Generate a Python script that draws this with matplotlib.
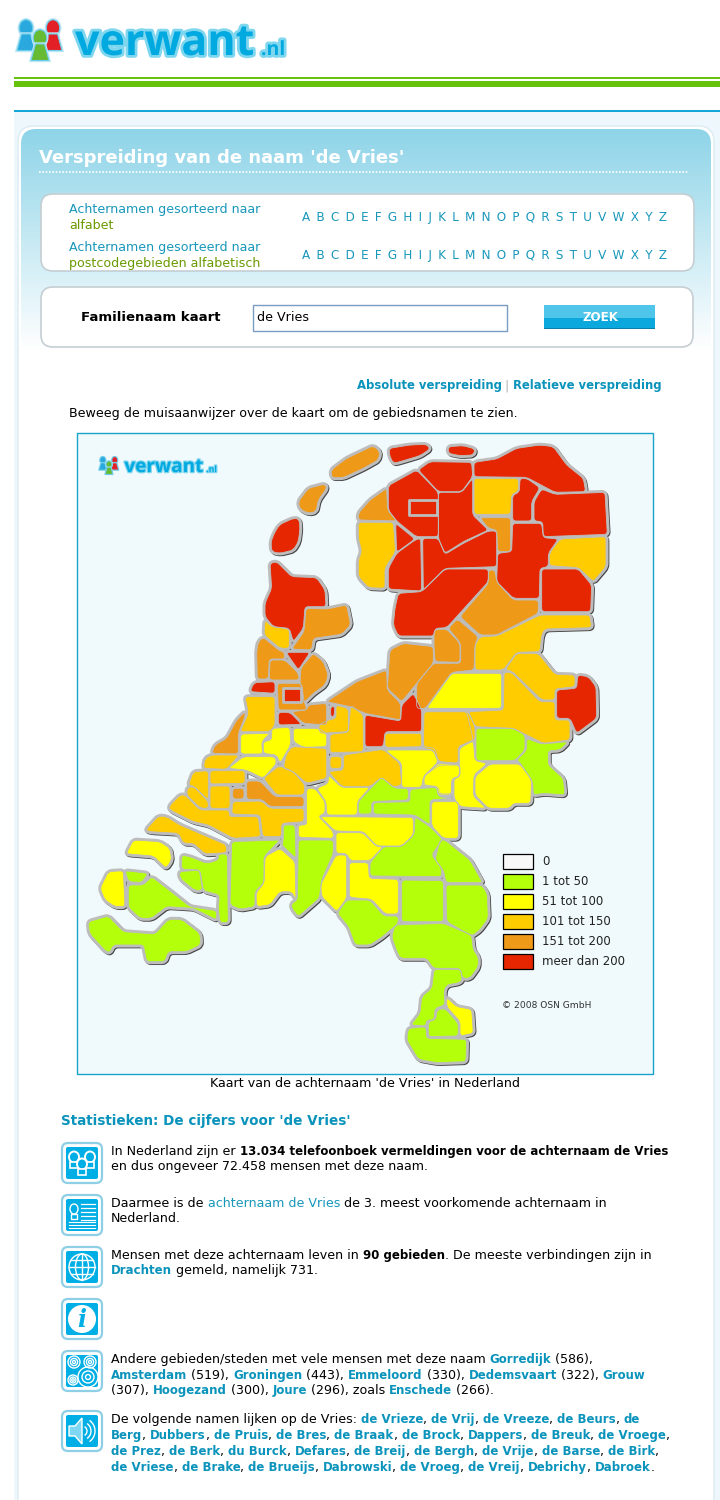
import re

import matplotlib
matplotlib.use("Agg")
import matplotlib.pyplot as plt
import matplotlib.patheffects as pe
import numpy as np
from matplotlib.patches import Circle, Ellipse, FancyBboxPatch, PathPatch, Polygon, Rectangle
from matplotlib.path import Path

plt.rcParams["font.family"] = ["DejaVu Sans"]

TEAL = "#0a93bb"
LINK = "#1897ba"
OLIVE = "#6a9a00"
BORDER = "#bdbdbd"
MAP_BG = "#f0f9fc"

LEGEND_LABELS = ["0", "1 tot 50", "51 tot 100", "101 tot 150", "151 tot 200", "meer dan 200"]
LEGEND_COLORS = ["#f8f8f8", "#b4ff0a", "#ffff00", "#ffcc00", "#ee9918", "#e62600"]
LETTERS = " \u2009".join("ABCDEFGHIJKLMNOPQRSTUVWXYZ")

ORIGIN_NORTH = (230, 435)
ORIGIN_SOUTH = (80, 700)
ORIGIN_EAST = (400, 670)
ORIGIN_LIMBURG = (400, 860)

north_red = [
    [(123, 320), (135, 290), (150, 268), (190, 250), (207, 252), (210, 280), (205, 320), (190, 345), (150, 355), (125, 350)],
    [(478, 40), (540, 30), (590, 28), (600, 42), (570, 62), (510, 80), (490, 85), (478, 60)],
    [(655, 35), (700, 32), (735, 42), (730, 60), (690, 62), (655, 55)],
    [(565, 105), (600, 80), (725, 82), (728, 125), (695, 170), (625, 170)],
    [(475, 152), (560, 105), (625, 172), (625, 305), (558, 305), (500, 258), (475, 225)],
    [(497, 265), (555, 312), (500, 352)],
    [(500, 355), (555, 315), (572, 310), (575, 468), (475, 462), (475, 400)],
    [(625, 172), (695, 172), (728, 130), (728, 240), (775, 285), (700, 320), (645, 355), (625, 310)],
    [(578, 310), (625, 310), (645, 358), (700, 325), (775, 288), (800, 288), (800, 395), (645, 400), (580, 465)],
    [(505, 475), (575, 470), (645, 402), (775, 402), (775, 440), (650, 578), (615, 580), (612, 603), (505, 603), (490, 570), (495, 520)],
    [(732, 82), (800, 72), (860, 40), (930, 30), (970, 35), (1010, 90), (1060, 130), (1067, 170), (975, 172), (890, 127), (732, 125)],
    [(870, 130), (890, 130), (930, 158), (905, 200), (905, 258), (848, 258), (848, 180), (868, 172)],
    [(935, 162), (975, 178), (1125, 172), (1132, 298), (940, 305), (938, 260), (912, 258), (912, 200)],
    [(848, 265), (935, 265), (940, 308), (985, 312), (955, 355), (955, 395), (930, 400), (928, 490), (850, 490), (800, 440), (803, 355), (845, 350)],
    [(935, 402), (1045, 402), (1085, 450), (1082, 530), (935, 530)],
    [(120, 385), (140, 380), (185, 425), (260, 428), (285, 465), (288, 515), (225, 515), (220, 580), (190, 620), (178, 580), (130, 575), (105, 545), (105, 505), (125, 460)],
    [(168, 652), (240, 652), (205, 705)],
    [(145, 832), (180, 832), (215, 868), (145, 870)],
    [(302, 815), (315, 815), (312, 845), (302, 845)],
    [(515, 810), (550, 775), (575, 825), (575, 890), (465, 890), (460, 935), (405, 935), (405, 840), (512, 858)],
    [(60, 770), (72, 743), (135, 740), (135, 775)],
    [(1043, 720), (1075, 725), (1098, 755), (1100, 850), (1040, 895), (1020, 850), (980, 850), (980, 765), (1040, 760)],
]
north_red_boxes = [
    [(538, 195), (622, 195), (622, 240), (538, 240)],
    [(158, 760), (212, 760), (212, 800), (158, 800)],
]
north_orange = [
    [(205, 200), (235, 160), (285, 147), (290, 160), (265, 195), (258, 230), (235, 235), (210, 222)],
    [(303, 105), (350, 70), (430, 32), (450, 50), (445, 75), (400, 100), (340, 128), (305, 128)],
    [(385, 255), (385, 235), (420, 195), (470, 160), (473, 225), (500, 258)],
    [(750, 248), (842, 248), (842, 350), (803, 350), (800, 285), (775, 280)],
    [(795, 405), (800, 440), (850, 495), (925, 495), (925, 535), (800, 600), (750, 600), (690, 545), (775, 445), (775, 405)],
    [(612, 585), (650, 582), (690, 625), (690, 682), (615, 680), (612, 630)],
    [(655, 580), (682, 552), (745, 605), (735, 630), (732, 705), (665, 712), (585, 822), (560, 820), (560, 745), (610, 685), (692, 685), (692, 625)],
    [(480, 645), (520, 625), (610, 635), (610, 685), (515, 800), (472, 760)],
    [(470, 705), (472, 765), (512, 805), (512, 855), (405, 835), (360, 815), (290, 800), (380, 740)],
    [(228, 520), (290, 522), (350, 510), (362, 570), (335, 598), (250, 610), (245, 645), (185, 642), (222, 590)],
    [(85, 620), (100, 607), (150, 648), (162, 650), (165, 672), (118, 672), (115, 732), (82, 732), (80, 650)],
    [(120, 675), (165, 675), (205, 715), (208, 735), (118, 735)],
    [(250, 655), (280, 680), (295, 720), (285, 750), (250, 775), (225, 800), (218, 800), (218, 765), (210, 745), (212, 700)],
    [(142, 745), (215, 745), (222, 800), (232, 825), (145, 825)],
    [(235, 810), (290, 805), (290, 870), (220, 865), (185, 830), (230, 825)],
]
north_amber = [
    [(385, 262), (490, 262), (497, 350), (465, 400), (465, 460), (415, 458), (385, 425), (385, 375), (395, 350), (385, 310)],
    [(732, 130), (865, 130), (865, 170), (845, 178), (842, 238), (732, 238)],
    [(990, 312), (1128, 305), (1128, 395), (1090, 440), (1045, 398), (958, 392), (958, 355)],
    [(930, 540), (1080, 540), (1085, 578), (945, 582), (935, 600), (930, 650), (860, 652), (820, 705), (735, 705), (735, 630), (750, 605), (800, 603)],
    [(105, 555), (125, 575), (178, 582), (178, 640), (150, 640), (102, 600)],
    [(825, 705), (860, 655), (925, 655), (975, 718), (1035, 720), (1035, 755), (975, 762), (975, 795), (935, 795), (845, 708)],
    [(822, 712), (845, 712), (930, 800), (975, 800), (975, 855), (1020, 855), (1020, 915), (940, 925), (850, 880), (735, 875), (715, 830), (820, 825)],
    [(318, 810), (355, 820), (355, 890), (270, 895), (265, 870), (295, 855), (318, 850)],
]
north_yellow = [
    [(665, 715), (815, 715), (815, 820), (590, 820)],
]

south_orange = [
    [(395, 160), (405, 135), (440, 115), (470, 60), (495, 35), (495, 50), (475, 100), (475, 162)],
    [(458, 265), (492, 265), (492, 297), (458, 297)],
    [(500, 243), (540, 243), (585, 290), (672, 290), (672, 320), (570, 320), (545, 298), (500, 298)],
]
south_amber = [
    [(495, -10), (585, -10), (585, 75), (570, 95), (480, 95), (505, 40)],
    [(750, 103), (805, 97), (812, 15), (850, 45), (850, 155), (750, 158)],
    [(618, 165), (635, 140), (740, 145), (740, 235), (680, 250), (640, 215), (610, 205)],
    [(750, 170), (785, 170), (785, 205), (750, 205)],
    [(790, 165), (910, 148), (960, 190), (965, 255), (940, 262), (905, 232), (870, 260), (785, 260), (745, 215), (790, 210)],
    [(370, 205), (375, 175), (395, 165), (478, 165), (440, 208)],
    [(325, 255), (340, 215), (385, 212), (385, 300), (340, 258)],
    [(390, 212), (495, 212), (495, 250), (390, 252)],
    [(390, 258), (450, 258), (450, 325), (390, 325)],
    [(322, 262), (342, 260), (385, 305), (385, 325), (362, 325), (320, 285)],
    [(550, 235), (597, 197), (640, 215), (675, 255), (672, 285), (590, 285)],
    [(268, 318), (300, 285), (315, 285), (360, 330), (448, 330), (448, 350), (535, 350), (542, 410), (460, 415), (385, 375), (340, 365), (270, 330)],
    [(458, 305), (545, 303), (570, 325), (672, 325), (672, 365), (605, 370), (605, 410), (548, 410), (540, 345), (455, 342)],
    [(197, 390), (235, 348), (260, 350), (300, 375), (440, 435), (440, 458), (375, 462), (340, 430), (310, 430), (295, 400), (210, 395)],
    [(915, 100), (1025, 100), (1025, 140), (915, 142)],
    [(1032, 35), (1165, 35), (1185, 80), (1185, 120), (1135, 140), (1135, 190), (1075, 185), (1060, 150), (1030, 145)],
]
south_yellow = [
    [(482, 102), (570, 100), (545, 125), (548, 162), (482, 162)],
    [(575, 85), (630, 82), (632, 135), (600, 190), (590, 165), (550, 160), (550, 125), (575, 120)],
    [(640, 85), (715, 85), (740, 100), (740, 140), (670, 142), (640, 125)],
    [(445, 205), (490, 170), (585, 170), (590, 190), (550, 235), (498, 210)],
    [(140, 458), (160, 420), (240, 425), (270, 445), (275, 480), (258, 505), (220, 468), (145, 462)],
    [(600, 445), (645, 485), (648, 600), (635, 575), (600, 575), (570, 615), (530, 620), (528, 578), (552, 550), (555, 470)],
    [(655, 412), (655, 375), (680, 375), (680, 265), (705, 265), (735, 305), (735, 340), (715, 348), (760, 395), (760, 415)],
    [(745, 225), (785, 262), (870, 262), (832, 305), (832, 345), (740, 345), (738, 305), (710, 265), (745, 250)],
    [(915, 150), (1060, 150), (1075, 185), (1030, 230), (1025, 262), (965, 262), (965, 190)],
    [(1030, 232), (1075, 190), (1140, 195), (1140, 228), (1115, 240), (1115, 285), (1075, 285), (1070, 260), (1030, 258)],
    [(1055, 305), (1135, 305), (1135, 415), (1090, 415), (1055, 378)],
    [(720, 350), (1000, 352), (1000, 405), (965, 438), (890, 438), (850, 395), (765, 393)],
    [(768, 398), (848, 398), (890, 440), (910, 440), (870, 482), (810, 482), (800, 460), (768, 460)],
    [(768, 465), (800, 465), (800, 595), (770, 635), (725, 590), (722, 555)],
    [(808, 488), (865, 488), (868, 535), (955, 538), (955, 642), (915, 642), (875, 598), (808, 592)],
    [(60, 565), (85, 515), (130, 512), (135, 620), (105, 620), (75, 600)],
]
south_green = [
    [(305, 465), (330, 470), (380, 490), (415, 480), (415, 462), (442, 462), (445, 668), (420, 668), (415, 625), (418, 585), (370, 572), (360, 510), (305, 508)],
    [(298, 515), (358, 510), (368, 570), (345, 572), (300, 535)],
    [(455, 425), (600, 420), (552, 470), (552, 548), (525, 575), (525, 620), (480, 628), (450, 615)],
    [(610, 375), (645, 375), (648, 475), (605, 435), (610, 420)],
    [(835, 305), (875, 262), (905, 232), (945, 265), (985, 265), (985, 300), (875, 305), (875, 342), (835, 342)],
    [(990, 268), (1070, 262), (1075, 290), (1115, 295), (1050, 300), (1050, 375), (1005, 345), (880, 342), (880, 308), (990, 305)],
    [(655, 420), (760, 420), (760, 460), (725, 540), (718, 595), (655, 650), (635, 625), (635, 610), (652, 600)],
    [(1005, 350), (1050, 380), (1088, 418), (1055, 465), (1085, 505), (1085, 530), (870, 528), (870, 488), (910, 440), (965, 440), (1002, 405)],
    [(772, 640), (800, 600), (870, 600), (912, 648), (955, 648), (955, 670), (905, 712), (870, 735), (825, 735), (805, 680)],
    [(945, 675), (1090, 670), (1175, 705), (1180, 750), (1195, 770), (1195, 800), (1170, 835), (1148, 835), (1140, 805), (1060, 805), (1040, 775), (960, 775), (945, 740), (935, 710)],
    [(135, 512), (205, 520), (185, 548), (145, 545)],
    [(145, 555), (190, 555), (215, 530), (280, 580), (330, 620), (410, 632), (410, 660), (340, 625), (260, 620), (215, 655), (180, 655), (145, 622)],
    [(25, 665), (85, 648), (130, 695), (225, 702), (265, 658), (305, 658), (360, 700), (362, 735), (320, 755), (265, 755), (255, 785), (200, 785), (190, 735), (100, 735), (90, 758), (75, 752), (28, 700)],
]

east_green = [
    [(228, 175), (340, 175), (375, 195), (375, 240), (345, 272), (228, 272)],
    [(380, 205), (425, 222), (505, 215), (480, 240), (445, 242), (445, 285), (490, 325), (495, 375), (430, 370), (400, 375), (398, 335), (360, 278), (350, 270), (380, 240)],
]
east_yellow = [
    [(270, 282), (360, 282), (395, 330), (392, 400), (340, 400), (330, 415), (265, 415), (225, 375), (225, 320)],
    [(178, 235), (220, 212), (225, 272), (262, 280), (222, 315), (220, 378), (258, 415), (180, 410), (162, 385), (162, 325), (180, 320), (178, 285)],
    [(118, 285), (178, 285), (178, 320), (155, 325), (155, 372), (118, 372), (115, 350), (72, 345), (72, 318)],
]
east_amber = [
    [(70, 125), (200, 125), (220, 210), (175, 230), (175, 280), (115, 275), (105, 235), (70, 230)],
]

limburg_green = [
    [(5, 60), (130, 62), (130, 185), (5, 185)],
    [(138, 75), (245, 75), (262, 100), (265, 175), (240, 210), (215, 228), (140, 185)],
    [(105, 0), (120, -60), (135, -60), (210, 0), (248, 68), (138, 68), (130, 30)],
    [(102, 328), (182, 328), (187, 358), (178, 368), (140, 375), (132, 395), (135, 435), (105, 445), (102, 480), (80, 480), (78, 498), (32, 495), (60, 460), (65, 410), (95, 385)],
    [(110, 450), (135, 445), (175, 490), (175, 528), (85, 530), (85, 485), (108, 478)],
    [(25, 505), (78, 500), (80, 535), (200, 538), (198, 605), (110, 608), (55, 598), (20, 540)],
]
limburg_yellow = [
    [(140, 412), (170, 440), (215, 448), (220, 520), (180, 528), (180, 485), (140, 440)],
]

# paragraphs: *bold*, _bold link_, ~link~
stat_headline = "Statistieken: De cijfers voor 'de Vries'"
para_lines = [
    (1155, "In Nederland zijn er *13.034 telefoonboek vermeldingen voor de achternaam de Vries*"),
    (1170, "en dus ongeveer 72.458 mensen met deze naam."),
    (1207, "Daarmee is de ~achternaam de Vries~ de 3. meest voorkomende achternaam in"),
    (1222, "Nederland."),
    (1259, "Mensen met deze achternaam leven in *90 gebieden*. De meeste verbindingen zijn in"),
    (1274, "_Drachten_ gemeld, namelijk 731."),
    (1363, "Andere gebieden/steden met vele mensen met deze naam _Gorredijk_ (586),"),
    (1379, "_Amsterdam_ (519), _Groningen_ (443), _Emmeloord_ (330), _Dedemsvaart_ (322), _Grouw_"),
    (1394, "(307), _Hoogezand_ (300), _Joure_ (296), zoals _Enschede_ (266)."),
    (1423, "De volgende namen lijken op de Vries: _de Vrieze_, _de Vrij_, _de Vreeze_, _de Beurs_, _de_"),
    (1439, "_Berg_, _Dubbers_, _de Pruis_, _de Bres_, _de Braak_, _de Brock_, _Dappers_, _de Breuk_, _de Vroege_,"),
    (1455, "_de Prez_, _de Berk_, _du Burck_, _Defares_, _de Breij_, _de Bergh_, _de Vrije_, _de Barse_, _de Birk_,"),
    (1471, "_de Vriese_, _de Brake_, _de Brueijs_, _Dabrowski_, _de Vroeg_, _de Vreij_, _Debrichy_, _Dabroek_."),
]

fig = plt.figure(figsize=(7.2, 15), dpi=100)
ax = fig.add_axes([0, 0, 1, 1])
ax.set_xlim(0, 720)
ax.set_ylim(1500, 0)
ax.axis("off")
renderer = fig.canvas.get_renderer()


def round_box(x0, y0, x1, y1, r, **kw):
    box = FancyBboxPatch((x0 + r, y0 + r), x1 - x0 - 2 * r, y1 - y0 - 2 * r,
                         boxstyle=f"round,pad={r},rounding_size={r}", **kw)
    ax.add_patch(box)
    return box


def rounded_path(arr, cap=3.5):
    # same corners, drawn as quadratic curves so the coast is not so angular
    n = len(arr)
    verts, codes = [], []
    for i in range(n):
        prev_pt, pt, next_pt = arr[i - 1], arr[i], arr[(i + 1) % n]
        d0 = np.linalg.norm(prev_pt - pt)
        d1 = np.linalg.norm(next_pt - pt)
        a = pt + (prev_pt - pt) * min(cap / d0, 0.45)
        b = pt + (next_pt - pt) * min(cap / d1, 0.45)
        verts += [a, pt, b]
        codes += [Path.MOVETO if i == 0 else Path.LINETO, Path.CURVE3, Path.CURVE3]
    verts.append(verts[0])
    codes.append(Path.CLOSEPOLY)
    return Path(verts, codes)


def text_width(s, **kw):
    # the bar keeps trailing spaces in the measurement
    t1 = ax.text(0, 0, s + "|", **kw)
    t2 = ax.text(0, 0, "|", **kw)
    w = t1.get_window_extent(renderer).width - t2.get_window_extent(renderer).width
    t1.remove()
    t2.remove()
    return w


def draw_runs(x, y, line):
    styles = {"*": ("bold", "black", 8.5), "_": ("bold", TEAL, 8.5), "~": ("normal", LINK, 9.05), "": ("normal", "black", 9.05)}
    for part in re.split(r"([*_~][^*_~]+[*_~])", line):
        if not part:
            continue
        mark = part[0] if part[0] in "*_~" else ""
        s = part[1:-1] if mark else part
        weight, color, size = styles[mark]
        ax.text(x, y, s, fontsize=size, fontweight=weight, color=color, va="baseline", ha="left")
        x += text_width(s, fontsize=size, fontweight=weight)


def person(x, y, s, color):
    edge = [pe.withStroke(linewidth=1.6 * s, foreground="#bfe9f7")]
    ax.add_patch(Ellipse((x, y), 9 * s, 11 * s, fc=color, ec="#6fcdea", lw=0.8, path_effects=edge))
    ax.add_patch(Polygon([(x - 3 * s, y + 4 * s), (x + 3 * s, y + 4 * s), (x + 6 * s, y + 15 * s), (x - 6 * s, y + 15 * s)],
                         fc=color, ec="#6fcdea", lw=0.8, path_effects=edge))


def logo(x, y, s):
    person(x + 11 * s, y + 14 * s, 1.5 * s, "#29a9dd")
    person(x + 38 * s, y + 14 * s, 1.5 * s, "#e32026")
    person(x + 25 * s, y + 24 * s, 1.5 * s, "#66bb33")
    glow = [pe.withStroke(linewidth=4 * s, foreground="#7fd6ef")]
    ax.text(x + 60 * s, y + 41 * s, "verwant", fontsize=31 * s, fontweight="bold", color="#00a9e0", family="Open Sans",
            va="baseline", path_effects=glow)
    ax.text(x + 246 * s, y + 41 * s, ".nl", fontsize=14 * s, fontweight="bold", color="#00a9e0", family="Open Sans",
            va="baseline", path_effects=glow)


def icon(y, kind):
    x = 62
    round_box(x, y, x + 40, y + 40, 6, fc="white", ec="#8fcfe5", lw=1.6)
    round_box(x + 4, y + 4, x + 36, y + 36, 2, fc="#00aee6", ec="none")
    cx, cy = x + 20, y + 20
    w = dict(fc="none", ec="white", lw=1.0)
    if kind == "people":
        for dx, dy in [(-8, -6), (8, -6), (0, 1)]:
            ax.add_patch(Ellipse((cx + dx, cy + dy), 10, 11, fc="#00aee6", ec="white", lw=1.4))
            ax.add_patch(Rectangle((cx + dx - 4, cy + dy + 5), 8, 6, fc="#00aee6", ec="white", lw=1.2))
    elif kind == "card":
        ax.add_patch(Ellipse((cx - 8, cy - 6), 8, 10, **w))
        ax.add_patch(Rectangle((cx - 11, cy - 1), 6, 5, **w))
        for k in range(5):
            ax.plot([cx - 1, cx + 13], [cy - 11 + 4 * k] * 2, color="white", lw=0.9)
        for k in range(3):
            ax.plot([cx - 13, cx + 13], [cy + 7 + 3 * k] * 2, color="white", lw=0.8)
    elif kind == "globe":
        ax.add_patch(Circle((cx, cy), 13, **w))
        ax.add_patch(Ellipse((cx, cy), 13, 26, **w))
        ax.plot([cx, cx], [cy - 13, cy + 13], color="white", lw=1)
        for dy, half in [(-7, 11), (0, 13), (7, 11)]:
            ax.plot([cx - half, cx + half], [cy + dy] * 2, color="white", lw=1)
    elif kind == "info":
        ax.add_patch(Circle((cx, cy), 14, fc="white", ec="none"))
        ax.text(cx, cy + 8, "i", fontsize=17, fontweight="bold", fontstyle="italic", family="DejaVu Serif",
                color="#00aee6", ha="center", va="baseline")
    elif kind == "rings":
        for dx, dy, rad in [(-8, -9, 6), (8, -9, 6), (-9, 9, 5), (6, 6, 10)]:
            for q in (1.0, 0.6, 0.25):
                ax.add_patch(Circle((cx + dx, cy + dy), rad * q, **w))
    elif kind == "speaker":
        ax.add_patch(Polygon([(cx - 13, cy - 5), (cx - 7, cy - 5), (cx, cy - 13), (cx, cy + 13), (cx - 7, cy + 5), (cx - 13, cy + 5)],
                             fc="#7fd8f3", ec="white", lw=1))
        theta = np.linspace(-0.9, 0.9, 20)
        for rad in (5, 9, 13):
            ax.plot(cx + rad * np.cos(theta), cy + rad * np.sin(theta), color="white", lw=1)


# page background and header lines
ax.add_patch(Rectangle((14, 77), 706, 2, fc="#66c20a", ec="none"))
ax.add_patch(Rectangle((14, 81), 706, 6, fc="#66c20a", ec="none"))
ax.add_patch(Rectangle((14, 110), 706, 2, fc="#12a7d6", ec="none"))
ax.add_patch(Rectangle((14, 112), 706, 1388, fc="#eef7fb", ec="none"))
logo(15, 14, 1.0)

# main panel with the blue fade on top
round_box(18, 126, 714, 1520, 16, fc="white", ec="#dcecf3", lw=1.0)
panel = round_box(21, 129, 711, 1520, 15, fc="none", ec="none")
fade = np.linspace(0, 1, 256).reshape(-1, 1)
start = np.array(matplotlib.colors.to_rgb("#8ed4e8"))
stop = np.array([1.0, 1.0, 1.0])
img = ax.imshow(start + (stop - start) * fade[..., None], extent=(21, 711, 350, 129), aspect="auto", zorder=1)
img.set_clip_path(panel)
ax.set_xlim(0, 720)
ax.set_ylim(1500, 0)

ax.text(39, 163, "Verspreiding van de naam 'de Vries'", fontsize=12.95, fontweight="bold", color="white", va="baseline", zorder=3)
ax.plot([39, 689], [172, 172], color="white", lw=1.2, ls=(0, (1, 1)), zorder=3)

round_box(41, 194, 694, 271, 12, fc="white", ec="#c5ced3", lw=1.2, zorder=3)
round_box(41, 287, 693, 347, 12, fc="white", ec="#c5ced3", lw=1.2, zorder=3)

for (y, txt, col) in [(213, "Achternamen gesorteerd naar", LINK), (229, "alfabet", OLIVE),
                      (251, "Achternamen gesorteerd naar", LINK), (267, "postcodegebieden alfabetisch", OLIVE)]:
    ax.text(69, y, txt, fontsize=9.05, color=col, va="baseline", zorder=4)
for y in (221, 259):
    ax.text(302, y, LETTERS, fontsize=8.65, color=LINK, va="baseline", zorder=4)

ax.text(81, 321, "Familienaam kaart", fontsize=9.55, fontweight="bold", color="black", va="baseline", zorder=4)
ax.add_patch(Rectangle((253, 305), 254, 26, fc="white", ec="#7a9cc0", lw=1, zorder=4))
ax.text(257, 321, "de Vries", fontsize=9.05, color="black", va="baseline", zorder=5)
ax.add_patch(Rectangle((544, 305), 111, 24, fc="#0a7fa8", ec="none", zorder=4))
ax.add_patch(Rectangle((544, 305), 111, 13, fc="#4fc5ea", ec="none", zorder=4))
ax.add_patch(Rectangle((544, 318), 111, 10, fc="#0aa8dc", ec="none", zorder=4))
ax.text(600, 321, "ZOEK", fontsize=8.6, fontweight="bold", color="white", ha="center", va="baseline", zorder=5)

ax.text(357, 389, "Absolute verspreiding", fontsize=8.35, fontweight="bold", color=TEAL, va="baseline", zorder=4)
ax.text(506, 389, "|", fontsize=9, color="#b0b0b0", ha="center", va="baseline", zorder=4)
ax.text(513, 389, "Relatieve verspreiding", fontsize=8.35, fontweight="bold", color=TEAL, va="baseline", zorder=4)
ax.text(69, 417, "Beweeg de muisaanwijzer over de kaart om de gebiedsnamen te zien.", fontsize=9.1, color="black", va="baseline", zorder=4)

# map frame
ax.add_patch(Rectangle((76.5, 432.5), 576, 641, fc=MAP_BG, ec="#17a3cc", lw=1, zorder=4))
ax.text(364.5, 1087, "Kaart van de achternaam 'de Vries' in Nederland", fontsize=9.05, color="black", ha="center", va="baseline", zorder=4)

layers = [
    (south_green, ORIGIN_SOUTH, 1), (east_green, ORIGIN_EAST, 1), (limburg_green, ORIGIN_LIMBURG, 1),
    (south_yellow, ORIGIN_SOUTH, 2), (east_yellow, ORIGIN_EAST, 2), (north_yellow, ORIGIN_NORTH, 2), (limburg_yellow, ORIGIN_LIMBURG, 2),
    (south_amber, ORIGIN_SOUTH, 3), (east_amber, ORIGIN_EAST, 3), (north_amber, ORIGIN_NORTH, 3),
    (south_orange, ORIGIN_SOUTH, 4), (north_orange, ORIGIN_NORTH, 4),
    (north_red, ORIGIN_NORTH, 5),
]
page_regions = []
for outlines, origin, cls in layers:
    for pts in outlines:
        arr = np.array(pts, dtype=float) / 3 + origin
        page_regions.append((rounded_path(arr), LEGEND_COLORS[cls]))

# dark coast shadow, wide gray land under the fills, then the fills themselves
for path, col in page_regions:
    ax.add_patch(PathPatch(Path(path.vertices + 1.0, path.codes), fc="#444444", ec="#444444", lw=3.4, joinstyle="round", zorder=5))
for path, col in page_regions:
    ax.add_patch(PathPatch(path, fc=BORDER, ec=BORDER, lw=3.6, joinstyle="round", zorder=6))
for path, col in page_regions:
    ax.add_patch(PathPatch(path, fc=col, ec="none", zorder=7))
for path, col in page_regions:
    ax.add_patch(PathPatch(path, fc="none", ec=BORDER, lw=0.6, joinstyle="round", zorder=8))
for pts in north_red_boxes:
    arr = np.array(pts, dtype=float) / 3 + ORIGIN_NORTH
    ax.add_patch(Polygon(arr, closed=True, fc=LEGEND_COLORS[5], ec=BORDER, lw=2.0, joinstyle="round", zorder=8))

# small logo on the map
first_patch = len(ax.patches)
first_text = len(ax.texts)
logo(98, 454, 0.44)
for a in list(ax.patches)[first_patch:] + list(ax.texts)[first_text:]:
    a.set_zorder(9)

# legend
for i, (label, col) in enumerate(zip(LEGEND_LABELS, LEGEND_COLORS)):
    ax.add_patch(Rectangle((502.5, 853.5 + 20 * i), 30, 15, fc=col, ec="black", lw=0.9, zorder=9))
    ax.text(542, 865 + 20 * i, label, fontsize=8.5, color="#222222", va="baseline", zorder=9)
ax.text(502, 1008, "© 2008 OSN GmbH", fontsize=6.6, color="#333333", va="baseline", zorder=9)

# statistics
ax.text(61, 1125, stat_headline, fontsize=9.75, fontweight="bold", color=TEAL, va="baseline", zorder=4)
for y, kind in [(1143, "people"), (1195, "card"), (1247, "globe"), (1299, "info"), (1351, "rings"), (1411, "speaker")]:
    icon(y, kind)
for y, line in para_lines:
    draw_runs(111, y, line)

fig.savefig("out.png", dpi=100)
